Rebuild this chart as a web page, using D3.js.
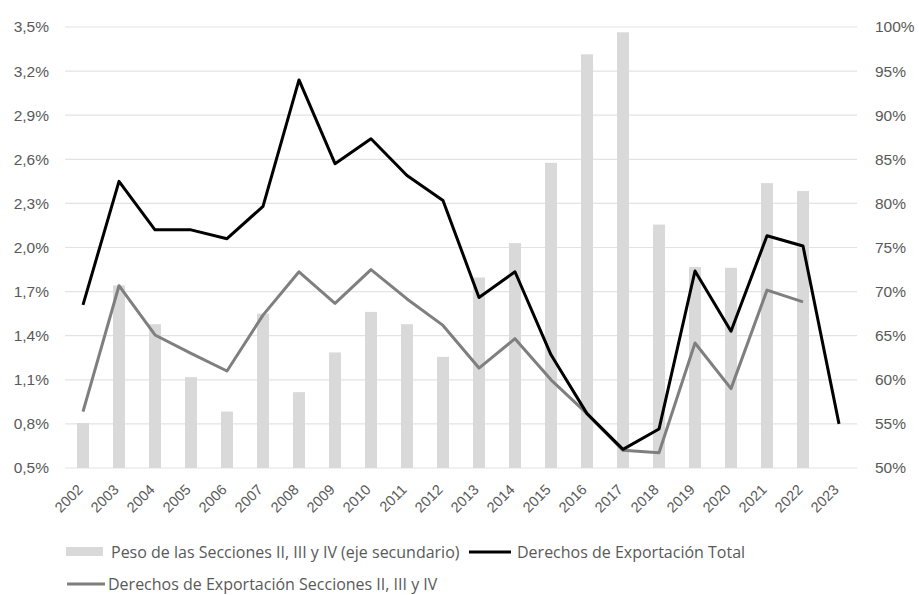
<!DOCTYPE html>
<html>
<head>
<meta charset="utf-8">
<script src="https://cdn.jsdelivr.net/npm/d3@7"></script>
<style>
  html, body { margin: 0; padding: 0; background: #fff; }
  svg { display: block; font-family: "Open Sans", "Liberation Sans", sans-serif; }
</style>
</head>
<body>
<svg id="chart" width="919" height="595"></svg>
<script>
// Años
const years = ["2002","2003","2004","2005","2006","2007","2008","2009","2010","2011","2012",
               "2013","2014","2015","2016","2017","2018","2019","2020","2021","2022","2023"];

// Peso de las Secciones II, III y IV (%, eje secundario)
const pesoSecciones = [55.1, 70.7, 66.3, 60.3, 56.4, 67.5, 58.6, 63.1, 67.7, 66.3, 62.6,
                       71.6, 75.5, 84.6, 96.9, 99.4, 77.6, 72.8, 72.7, 82.3, 81.4, null];

// Derechos de Exportación Total (%)
const derechosTotal = [1.61, 2.45, 2.12, 2.12, 2.06, 2.28, 3.14, 2.57, 2.74, 2.49, 2.32,
                       1.66, 1.835, 1.27, 0.87, 0.627, 0.765, 1.84, 1.43, 2.08, 2.01, 0.80];

// Derechos de Exportación Secciones II, III y IV (%)
const derechosSecciones = [0.883, 1.74, 1.405, 1.28, 1.16, 1.54, 1.835, 1.62, 1.85, 1.65, 1.47,
                           1.18, 1.38, 1.10, 0.87, 0.62, 0.604, 1.35, 1.04, 1.71, 1.63, null];

// Marcas de los ejes
const leftTicks = [0.5, 0.8, 1.1, 1.4, 1.7, 2.0, 2.3, 2.6, 2.9, 3.2, 3.5];
const rightTicks = [50, 55, 60, 65, 70, 75, 80, 85, 90, 95, 100];

const legendLabels = [
  "Peso de las Secciones II, III y IV (eje secundario)",
  "Derechos de Exportación Total",
  "Derechos de Exportación Secciones II, III y IV"
];

const svg = d3.select("#chart");
const margin = { top: 27, right: 62, bottom: 127, left: 65 };
const W = 919, H = 595;
const innerW = W - margin.left - margin.right;
const innerH = H - margin.top - margin.bottom;

const es = d3.formatLocale({ decimal: ",", thousands: ".", grouping: [3], currency: ["", "€"] });
const fmtLeft = v => es.format(".1f")(v) + "%";
const fmtRight = v => d3.format("d")(v) + "%";

const x = d3.scaleBand().domain(years).range([0, innerW]).paddingInner(0).paddingOuter(0);
const yL = d3.scaleLinear().domain([0.5, 3.5]).range([innerH, 0]);
const yR = d3.scaleLinear().domain([50, 100]).range([innerH, 0]);

const g = svg.append("g").attr("transform", `translate(${margin.left},${margin.top})`);

// Líneas de cuadrícula
g.append("g")
  .selectAll("line")
  .data(leftTicks)
  .join("line")
  .attr("x1", 0).attr("x2", innerW)
  .attr("y1", d => yL(d)).attr("y2", d => yL(d))
  .attr("stroke", "#e3e3e3")
  .attr("stroke-width", 1.2);

// Barras (eje secundario)
const barW = 12;
g.append("g")
  .selectAll("rect")
  .data(years.map((y, i) => ({ year: y, v: pesoSecciones[i] })).filter(d => d.v != null))
  .join("rect")
  .attr("x", d => x(d.year) + x.bandwidth() / 2 - barW / 2)
  .attr("width", barW)
  .attr("y", d => yR(d.v))
  .attr("height", d => yR(50) - yR(d.v))
  .attr("fill", "#d9d9d9");

// Líneas
const lineL = d3.line()
  .defined(d => d.v != null)
  .x(d => x(d.year) + x.bandwidth() / 2)
  .y(d => yL(d.v));

g.append("path")
  .datum(years.map((y, i) => ({ year: y, v: derechosSecciones[i] })))
  .attr("d", lineL)
  .attr("fill", "none")
  .attr("stroke", "#7f7f7f")
  .attr("stroke-width", 3)
  .attr("stroke-linejoin", "round");

g.append("path")
  .datum(years.map((y, i) => ({ year: y, v: derechosTotal[i] })))
  .attr("d", lineL)
  .attr("fill", "none")
  .attr("stroke", "#000")
  .attr("stroke-width", 3)
  .attr("stroke-linejoin", "round");

// Eje izquierdo
const axL = g.append("g")
  .call(d3.axisLeft(yL).tickValues(leftTicks).tickFormat(fmtLeft).tickSize(0).tickPadding(16));
axL.select(".domain").remove();
axL.selectAll("text").attr("fill", "#595959").style("font-size", "15.5px");

// Eje derecho
const axR = g.append("g")
  .attr("transform", `translate(${innerW},0)`)
  .call(d3.axisRight(yR).tickValues(rightTicks).tickFormat(fmtRight).tickSize(0).tickPadding(18));
axR.select(".domain").remove();
axR.selectAll("text").attr("fill", "#595959").style("font-size", "15.5px");

// Eje X
const axX = g.append("g")
  .attr("transform", `translate(0,${innerH})`)
  .call(d3.axisBottom(x).tickSize(0).tickPadding(0));
axX.select(".domain").remove();
axX.selectAll("text")
  .attr("fill", "#595959")
  .style("font-size", "14.5px")
  .attr("text-anchor", "end")
  .attr("dy", "0.35em")
  .attr("transform", "translate(-3,19) rotate(-45)");

// Leyenda
const leg = svg.append("g").style("font-size", "16px").attr("fill", "#595959");
leg.append("rect").attr("x", 66).attr("y", 547).attr("width", 37).attr("height", 9).attr("fill", "#d9d9d9");
leg.append("text").attr("x", 111).attr("y", 552).attr("dy", "0.35em").text(legendLabels[0]);
leg.append("line").attr("x1", 469).attr("x2", 511).attr("y1", 552).attr("y2", 552)
  .attr("stroke", "#000").attr("stroke-width", 3);
leg.append("text").attr("x", 517).attr("y", 552).attr("dy", "0.35em").text(legendLabels[1]);
leg.append("line").attr("x1", 67).attr("x2", 105).attr("y1", 584).attr("y2", 584)
  .attr("stroke", "#7f7f7f").attr("stroke-width", 3);
leg.append("text").attr("x", 108).attr("y", 584).attr("dy", "0.35em").text(legendLabels[2]);
</script>
</body>
</html>
